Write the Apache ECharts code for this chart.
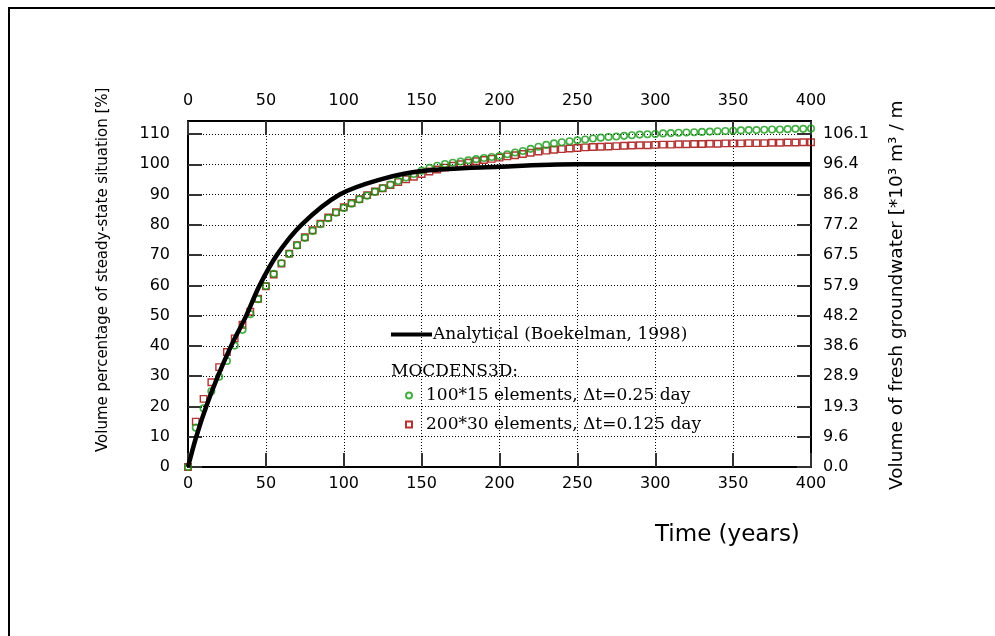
<!DOCTYPE html>
<html>
<head>
<meta charset="utf-8">
<script src="https://cdn.jsdelivr.net/npm/echarts@6/dist/echarts.min.js"></script>
<style>html,body{margin:0;padding:0;background:#fff}#chart{width:995px;height:636px}</style>
</head>
<body>
<div id="chart"></div>
<script>
// Analytical solution (Boekelman, 1998): time [years], volume [%]
const analyticTime = [0, 5.3, 11.7, 19.2, 27.7, 37.4, 46, 57, 72.8, 97.4, 125, 150, 200, 250, 300, 350, 400];
const analyticValue = [0, 10, 20, 30, 40, 50, 60, 70, 80, 90, 95.2, 97.8, 99.2, 100, 100, 100, 100];

// MOCDENS3D output times [years]
const modelTime = [
  0, 5, 10, 15, 20, 25, 30, 35, 40, 45,
  50, 55, 60, 65, 70, 75, 80, 85, 90, 95,
  100, 105, 110, 115, 120, 125, 130, 135, 140, 145,
  150, 155, 160, 165, 170, 175, 180, 185, 190, 195,
  200, 205, 210, 215, 220, 225, 230, 235, 240, 245,
  250, 255, 260, 265, 270, 275, 280, 285, 290, 295,
  300, 305, 310, 315, 320, 325, 330, 335, 340, 345,
  350, 355, 360, 365, 370, 375, 380, 385, 390, 395,
  400
];
// 100*15 elements, dt = 0.25 day
const coarseValue = [
  0, 13, 19.4, 25, 29.8, 35, 40.1, 45.3, 50.5, 55.4,
  59.8, 63.8, 67.3, 70.4, 73.2, 75.7, 78, 80.2, 82.2, 84,
  85.6, 87, 88.4, 89.6, 90.9, 92.1, 93.3, 94.5, 95.6, 96.8,
  97.9, 98.8, 99.5, 100.1, 100.5, 100.9, 101.3, 101.7, 102.1, 102.4,
  102.7, 103.3, 103.9, 104.4, 105.1, 105.8, 106.4, 106.9, 107.3, 107.6,
  107.9, 108.2, 108.5, 108.8, 109, 109.2, 109.4, 109.6, 109.8, 109.9,
  110, 110.2, 110.3, 110.4, 110.5, 110.6, 110.7, 110.8, 110.9, 111,
  111.1, 111.2, 111.3, 111.3, 111.4, 111.5, 111.5, 111.6, 111.7, 111.7,
  111.8
];
// 200*30 elements, dt = 0.125 day
const fineValue = [
  0, 15, 22.5, 28, 33, 38, 42.5, 47, 51.3, 55.6,
  59.7, 63.6, 67.2, 70.5, 73.3, 75.9, 78.2, 80.4, 82.4, 84.2,
  85.8, 87.2, 88.5, 89.8, 91, 92.1, 93.1, 94.1, 95, 95.9,
  96.8, 97.6, 98.3, 98.9, 99.5, 100, 100.5, 101, 101.4, 101.8,
  102.2, 102.6, 103, 103.4, 103.8, 104.2, 104.5, 104.8, 105, 105.2,
  105.4, 105.6, 105.7, 105.8, 105.9, 106, 106.1, 106.2, 106.3, 106.3,
  106.4, 106.5, 106.5, 106.6, 106.6, 106.7, 106.7, 106.8, 106.8, 106.9,
  106.9, 106.9, 107, 107, 107, 107.1, 107.1, 107.2, 107.2, 107.3,
  107.3
];
// Right axis tick labels (volume of fresh groundwater)
const rightTickLabels = ['0.0', '9.6', '19.3', '28.9', '38.6', '48.2', '57.9', '67.5', '77.2', '86.8', '96.4', '106.1'];

const anaName = 'Analytical (Boekelman, 1998)';
const coarseName = '100*15 elements, \u0394t=0.25 day';
const fineName = '200*30 elements, \u0394t=0.125 day';

const chart = echarts.init(document.getElementById('chart'), null, {renderer: 'canvas'});

function tickFont(extra) { return Object.assign({fontFamily: 'DejaVu Sans', fontSize: 16, color: '#000'}, extra); }
function axisLine() { return {show: true, onZero: false, lineStyle: {color: '#000', width: 2}}; }
function axisTick() { return {show: true, inside: true, length: 14, lineStyle: {color: '#333', width: 2}}; }
function dotted() { return {show: true, lineStyle: {color: '#000', width: 1, type: [1, 2]}}; }

const option = {
  backgroundColor: '#fff',
  animation: false,
  grid: {left: 188, right: 184, top: 121, bottom: 169, show: false},
  xAxis: [
    {type: 'value', position: 'bottom', min: 0, max: 400, interval: 50,
     axisLine: axisLine(), axisTick: axisTick(), splitLine: dotted(),
     axisLabel: tickFont({margin: 9})},
    {type: 'value', position: 'top', min: 0, max: 400, interval: 50,
     axisLine: axisLine(), axisTick: axisTick(), splitLine: {show: false},
     axisLabel: tickFont({margin: 12})}
  ],
  yAxis: [
    {type: 'value', position: 'left', min: 0, max: 114.3, interval: 10,
     axisLine: axisLine(), axisTick: axisTick(), splitLine: dotted(),
     axisLabel: tickFont({margin: 18, showMaxLabel: false})},
    {type: 'value', position: 'right', min: 0, max: 114.3, interval: 10,
     axisLine: axisLine(), axisTick: axisTick(), splitLine: {show: false},
     axisLabel: tickFont({margin: 12, showMaxLabel: false,
       formatter: function (v) { const i = Math.round(v / 10); return rightTickLabels[i] !== undefined ? rightTickLabels[i] : ''; }})}
  ],
  legend: [
    {data: [{name: anaName, icon: 'rect'}], left: 391, top: 326, orient: 'vertical', padding: 0,
     itemWidth: 41, itemHeight: 4, selectedMode: false,
     textStyle: {fontFamily: 'DejaVu Serif', fontSize: 17, color: '#000', padding: [0, 0, 0, -4]}},
    {data: [coarseName], left: 405, top: 387, orient: 'vertical', padding: 0,
     itemWidth: 6, itemHeight: 6, selectedMode: false,
     textStyle: {fontFamily: 'DejaVu Serif', fontSize: 17, color: '#000', padding: [0, 0, 0, 9]}},
    {data: [fineName], left: 405, top: 416, orient: 'vertical', padding: 0,
     itemWidth: 6, itemHeight: 6, selectedMode: false,
     textStyle: {fontFamily: 'DejaVu Serif', fontSize: 17, color: '#000', padding: [0, 0, 0, 9]}}
  ],
  graphic: [
    {type: 'rect', shape: {x: 9, y: 8, width: 1000, height: 700}, style: {fill: 'none', stroke: '#000', lineWidth: 2}, silent: true},
    {type: 'text', x: 103, y: 452, rotation: Math.PI / 2,
     style: {text: 'Volume percentage of steady-state situation [%]', fontFamily: 'DejaVu Sans', fontSize: 15, fill: '#000', align: 'left', verticalAlign: 'middle'}},
    {type: 'text', x: 897, y: 490, rotation: Math.PI / 2,
     style: {text: 'Volume of fresh groundwater [*10\u00B3 m\u00B3 / m', fontFamily: 'DejaVu Sans', fontSize: 18.5, fill: '#000', align: 'left', verticalAlign: 'middle'}},
    {type: 'text', x: 655, y: 535,
     style: {text: 'Time (years)', fontFamily: 'DejaVu Sans', fontSize: 23, fill: '#000', align: 'left', verticalAlign: 'middle'}},
    {type: 'text', x: 391, y: 372,
     style: {text: 'MOCDENS3D:', fontFamily: 'DejaVu Serif', fontSize: 17, fill: '#000', align: 'left', verticalAlign: 'middle'}}
  ],
  series: [
    {name: fineName, type: 'scatter', xAxisIndex: 0, yAxisIndex: 0,
     data: modelTime.map(function (t, i) { return [t, fineValue[i]]; }),
     symbol: 'rect', symbolSize: 6.5, z: 2,
     itemStyle: {color: 'rgba(255,255,255,0)', borderColor: '#a00000', borderWidth: 1.4}},
    {name: coarseName, type: 'scatter', xAxisIndex: 0, yAxisIndex: 0,
     data: modelTime.map(function (t, i) { return [t, coarseValue[i]]; }),
     symbol: 'circle', symbolSize: 6.5, z: 3,
     itemStyle: {color: 'rgba(255,255,255,0)', borderColor: '#159a15', borderWidth: 1.6}},
    {name: anaName, type: 'line', xAxisIndex: 0, yAxisIndex: 0,
     data: analyticTime.map(function (t, i) { return [t, analyticValue[i]]; }),
     smooth: 0.35, symbol: 'none', z: 4,
     lineStyle: {color: '#000', width: 4.5}, itemStyle: {color: '#000'}}
  ]
};
chart.setOption(option);
</script>
</body>
</html>
